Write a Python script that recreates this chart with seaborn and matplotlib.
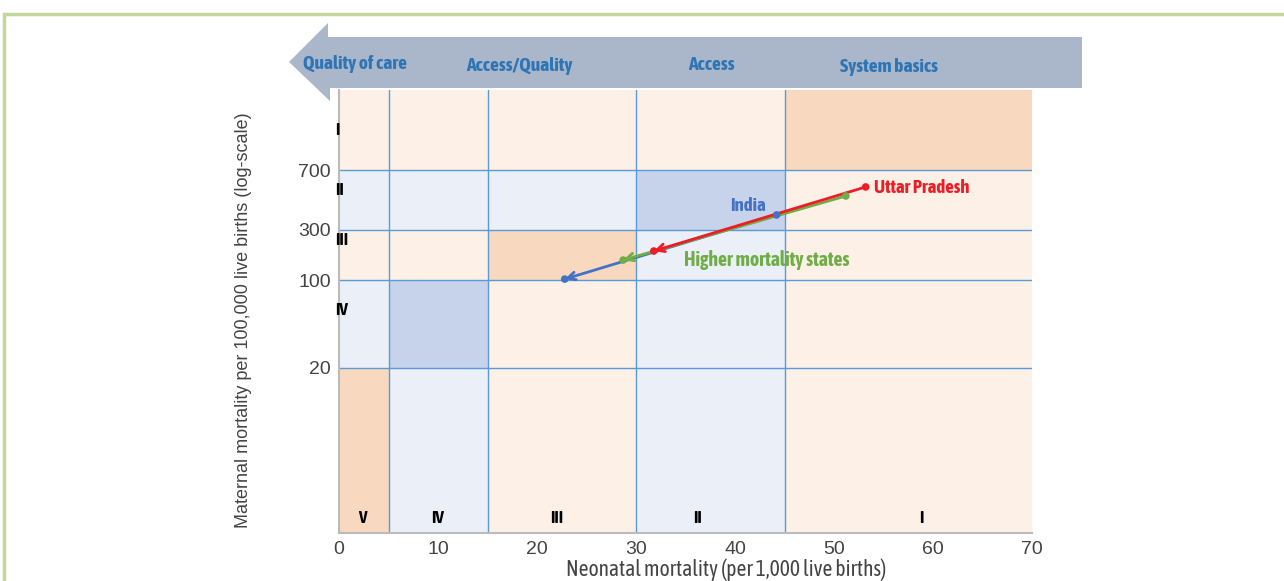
import numpy as np
import pandas as pd
import matplotlib
matplotlib.use("Agg")
import matplotlib.pyplot as plt
from matplotlib.colors import ListedColormap
from matplotlib.patches import Polygon, Rectangle
import matplotlib.transforms as mtransforms
import seaborn as sns
from matplotlib import font_manager

# --- data -------------------------------------------------------------
series = ["India", "Higher mortality states", "Uttar Pradesh"]
nmr_start = [44.2, 51.2, 53.2]
nmr_end = [22.8, 28.7, 31.8]
mmr_start = [371, 485, 551]
mmr_end = [102, 155, 189]

x_edges = [0, 5, 15, 30, 45, 70]
y_edges = [1, 20, 100, 300, 700, 2000]
y_ticks = [20, 100, 300, 700]
x_ticks = [0, 10, 20, 30, 40, 50, 60, 70]
stage_names = ["I", "II", "III", "IV", "V"]
phases = ["Quality of care", "Access/Quality", "Access", "System basics"]

# --- style ------------------------------------------------------------
sns.set_theme(style="white")
plt.rcParams["font.family"] = ["Liberation Sans", "DejaVu Sans"]


def _w(f):
    w = f.weight
    if isinstance(w, str):
        w = font_manager.weight_dict.get(w, 400)
    return w


# look for a condensed face that has a bold weight
ttf = font_manager.fontManager.ttflist
is_narrow = lambda f: "Condensed" in f.name or "Narrow" in f.name
narrow = "Liberation Sans"
bold_c = [f.name for f in ttf if is_narrow(f) and _w(f) >= 600 and f.style == "normal"]
any_c = [f.name for f in ttf if is_narrow(f)]
if bold_c:
    narrow = bold_c[0]
elif any_c:
    narrow = any_c[0]
cfont = dict(family=[narrow, "DejaVu Sans"])

colors = {"India": "#4472c4", "Higher mortality states": "#70ad47", "Uttar Pradesh": "#ee1c25"}
cell_cmap = ListedColormap(["#fcf0e7", "#eaeff8", "#f8d8bf", "#c7d3ea"])
grid_col = "#5b9bd5"
W, H = 1284, 581

fig = plt.figure(figsize=(W / 100, H / 100), dpi=100)
ax = fig.add_axes([339 / W, 1 - 533 / H, (1032 - 339) / W, (533 - 90) / H])

# schematic "log" scale: piecewise log mapping like the original figure
LOGS = np.log10(y_edges)
POS = [0, 0.3725, 0.5711, 0.684, 0.8194, 1]
fwd = lambda v: np.interp(np.log10(np.clip(v, 1e-9, None)), LOGS, POS)
inv = lambda u: 10 ** np.interp(u, POS, LOGS)
ax.set_yscale("function", functions=(fwd, inv))

# stage cells: stage is the worse of the two levels
n = len(stage_names)
C = np.zeros((n, n))
for j in range(n):          # rows from bottom
    r = n - 1 - j           # row level (0 = I at top)
    for c in range(n):
        lx = n - 1 - c      # column level (0 = I at right)
        st = min(r, lx)
        C[j, c] = (st % 2) + (2 if r == lx else 0)
ax.pcolormesh(x_edges, y_edges, C, cmap=cell_cmap, vmin=-0.5, vmax=3.5, zorder=0)

for xv in x_edges[1:-1]:
    ax.axvline(xv, color=grid_col, lw=1, zorder=1)
for yv in y_ticks:
    ax.axhline(yv, color=grid_col, lw=1, zorder=1)

# arrows and dots
for s, x0, x1, y0, y1 in zip(series, nmr_start, nmr_end, mmr_start, mmr_end):
    ax.annotate("", xy=(x1, y1), xytext=(x0, y0),
                arrowprops=dict(arrowstyle="->", color=colors[s], lw=2,
                                mutation_scale=14, shrinkA=0, shrinkB=0),
                zorder=3)
pts = pd.DataFrame({
    "series": series * 2,
    "nmr": nmr_start + nmr_end,
    "mmr": mmr_start + mmr_end,
})
sns.scatterplot(data=pts, x="nmr", y="mmr", hue="series", palette=colors,
                s=30, edgecolor="none", legend=False, ax=ax, zorder=4)

lab_font = dict(fontweight="bold", fontsize=13.5, **cfont)
ax.text(41.3, 420, "India", color=colors["India"], ha="center", va="center", **lab_font)
ax.text(54.0, 545, "Uttar Pradesh", color=colors["Uttar Pradesh"], ha="left", va="center", **lab_font)
ax.text(34.8, 155, "Higher mortality states", color=colors["Higher mortality states"],
        ha="left", va="center", fontweight="bold", fontsize=14.2, **cfont)

# stage numerals
rn = dict(fontweight="bold", fontsize=12.5, color="black", **cfont)
for name, yv in zip(stage_names[:4], [1180, 527, 241, 58]):
    ax.text(-0.4, yv, name, ha="left", va="center", **rn)
trans = mtransforms.blended_transform_factory(ax.transData, ax.transAxes)
for name, xv in zip(stage_names[::-1], [2.4, 10.0, 22.0, 36.2, 58.8]):
    ax.text(xv, 0.033, name, transform=trans, ha="center", va="center", **rn)

ax.set_xlim(0, 70)
ax.set_ylim(y_edges[0], y_edges[-1])
ax.set_xticks(x_ticks)
ax.set_xticklabels([str(v) for v in x_ticks])
ax.set_yticks(y_ticks)
ax.set_yticklabels([str(v) for v in y_ticks])
ax.yaxis.set_minor_locator(matplotlib.ticker.NullLocator())
ax.tick_params(axis="both", length=0, labelsize=14, colors="#444444", pad=6)
ax.set_xlabel("Neonatal mortality (per 1,000 live births)", fontsize=15.5,
              color="#444444", va="baseline", **cfont)
ax.xaxis.set_label_coords((726 - 339) / (1032 - 339), -(576 - 533) / (533 - 90))
ax.set_ylabel("Maternal mortality per 100,000 live births (log-scale)", fontsize=13,
              color="#444444")
ax.yaxis.set_label_coords(-(339 - 252) / (1032 - 339), (533 - 320) / (533 - 90))
for side in ["top", "right"]:
    ax.spines[side].set_visible(False)
for side in ["left", "bottom"]:
    ax.spines[side].set_color("#bbbbbb")
    ax.spines[side].set_linewidth(1.5)

# banner arrow on top
px = lambda x, y: (x / W, 1 - y / H)
banner = Polygon([px(289, 62), px(328, 23), px(328, 37), px(1082, 37), px(1082, 88),
                  px(330, 88), px(330, 101)], closed=True, transform=fig.transFigure,
                 facecolor="#aab6c9", edgecolor="none", zorder=0)
fig.patches.append(banner)
for name, xp, yp in zip(phases, [355, 519, 711, 889], [64, 66, 65, 67]):
    fig.text(*px(xp, yp), name, ha="center", va="center", color="#2e75b6",
             fontweight="bold", fontsize=14, **cfont)

# frame border
fig.patches.append(Rectangle(px(4, 700), 1.2, 1 - px(4, 700)[1] - 14 / H,
                             transform=fig.transFigure, fill=False,
                             edgecolor="#c3d69b", lw=2.5))

fig.savefig("out.png", dpi=100)
